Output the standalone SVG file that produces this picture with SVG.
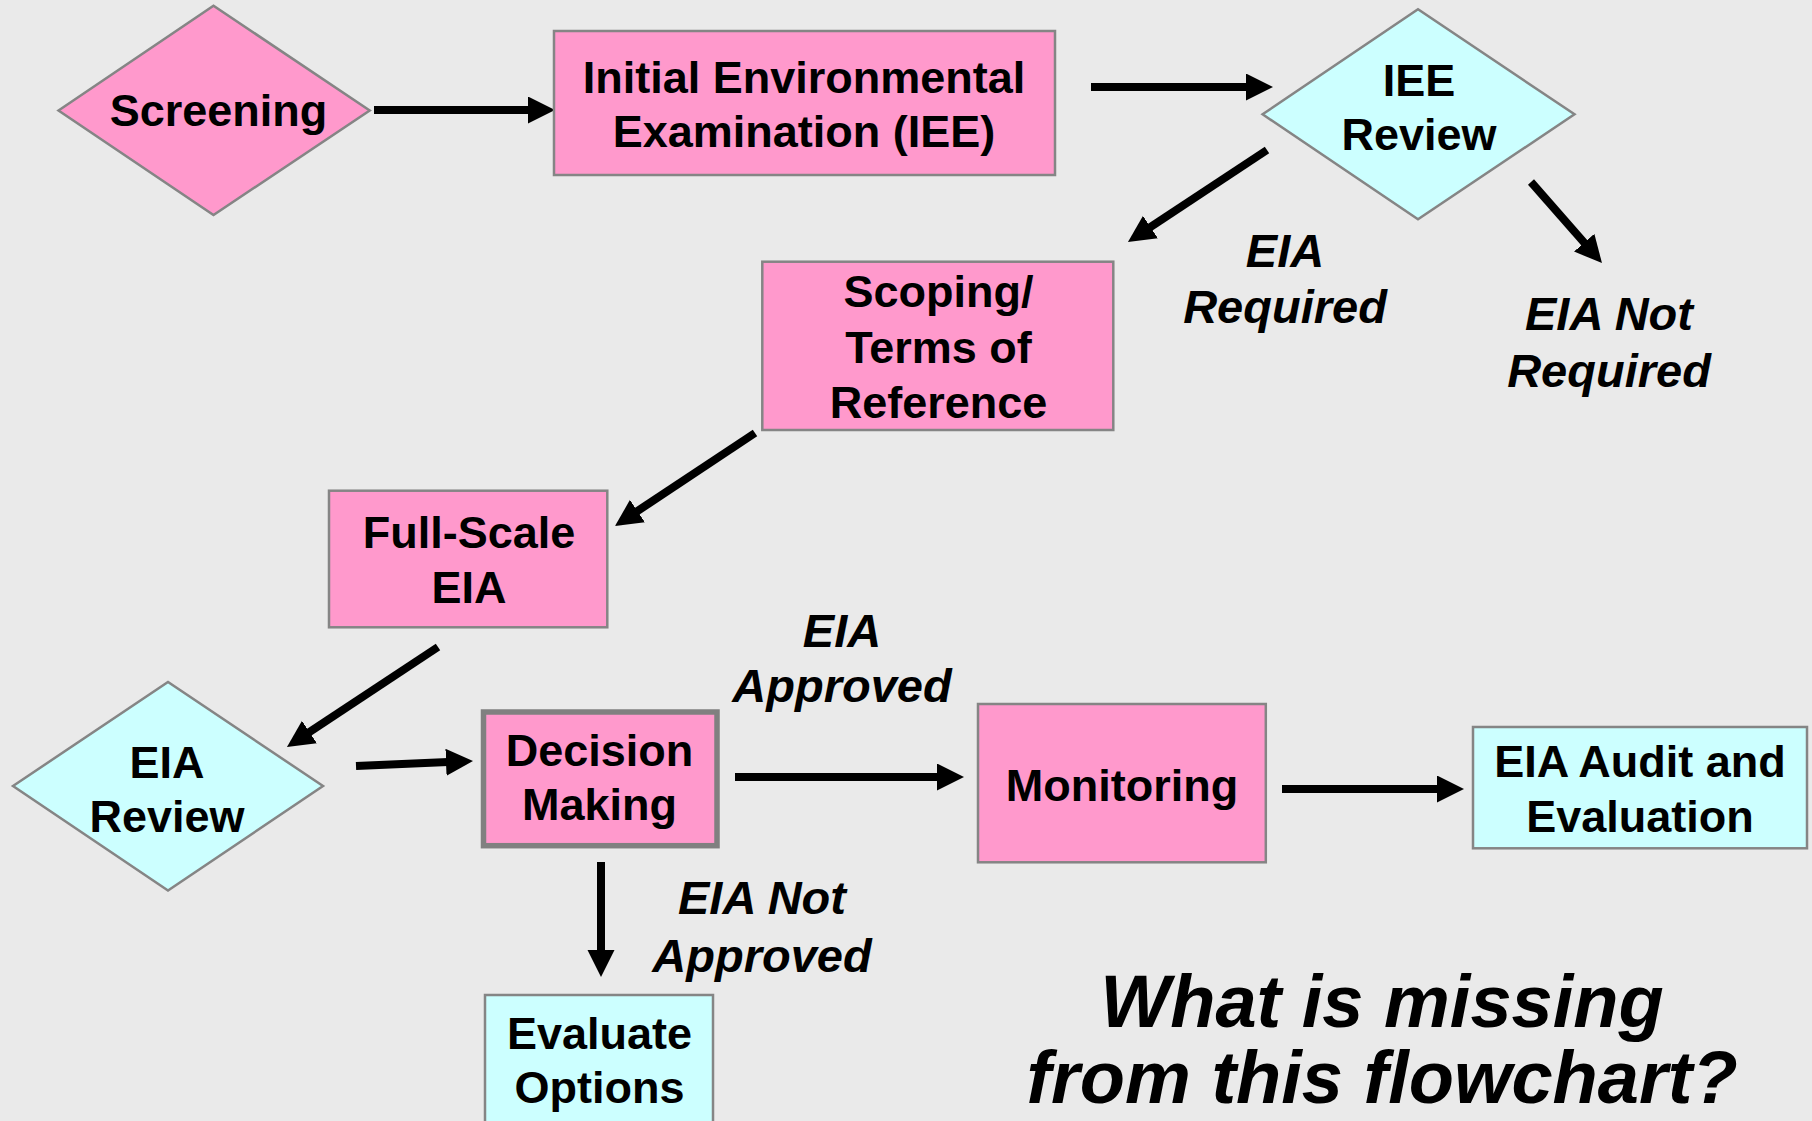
<svg xmlns="http://www.w3.org/2000/svg" width="1812" height="1121" viewBox="0 0 1812 1121">
  <style>
    .pink { fill: #FF99CC; stroke: #858585; stroke-width: 2.5; }
    .cyan { fill: #CCFFFF; stroke: #858585; stroke-width: 2.5; }
    .thick { stroke-width: 5.5; stroke: #808080; }
    .node { font-family: "Liberation Sans", Arial, sans-serif; font-weight: bold; font-size: 45px; fill: #000; text-anchor: middle; }
    .label { font-family: "Liberation Sans", Arial, sans-serif; font-weight: bold; font-style: italic; font-size: 47px; fill: #000; text-anchor: middle; }
    .question { font-family: "Liberation Sans", Arial, sans-serif; font-weight: bold; font-style: italic; font-size: 74px; fill: #000; text-anchor: middle; }
    .conn { stroke: #000; stroke-width: 8; fill: none; marker-end: url(#head); }
  </style>
  <defs>
    <marker id="head" markerUnits="userSpaceOnUse" markerWidth="28" markerHeight="28" viewBox="0 0 28 28" refX="2" refY="13.5" orient="auto">
      <path d="M0,0 L27,13.5 L0,27 Z" fill="#000"/>
    </marker>
  </defs>

  <rect x="0" y="0" width="1812" height="1121" fill="#EAEAEA"/>

  <!-- connectors -->
  <g id="connectors">
    <line class="conn" x1="374" y1="110" x2="530" y2="110"/>
    <line class="conn" x1="1091" y1="87" x2="1248" y2="87"/>
    <line class="conn" x1="1267" y1="150" x2="1148.8" y2="228.2"/>
    <line class="conn" x1="1531" y1="182" x2="1585.5" y2="244.2"/>
    <line class="conn" x1="755" y1="433" x2="635.8" y2="512.2"/>
    <line class="conn" x1="438" y1="647" x2="307.8" y2="733.2"/>
    <line class="conn" x1="356" y1="766" x2="448" y2="762.1"/>
    <line class="conn" x1="735" y1="777" x2="939" y2="777"/>
    <line class="conn" x1="1282" y1="789" x2="1439" y2="789"/>
    <line class="conn" x1="601" y1="862" x2="601" y2="952"/>
  </g>

  <!-- nodes -->
  <g id="screening">
    <polygon class="pink" points="58.5,110.5 213.5,5.7 369.7,110.5 213.5,215"/>
    <text class="node" x="218.5" y="126">Screening</text>
  </g>

  <g id="iee">
    <rect class="pink" x="554" y="31" width="501" height="144"/>
    <text class="node" x="804" y="92.7">Initial Environmental</text>
    <text class="node" x="804" y="146.7">Examination (IEE)</text>
  </g>

  <g id="iee-review">
    <polygon class="cyan" points="1262.6,114.3 1418,9.3 1574.5,114.3 1418,219.3"/>
    <text class="node" x="1419" y="96">IEE</text>
    <text class="node" x="1419" y="150">Review</text>
  </g>

  <g id="scoping">
    <rect class="pink" x="762.3" y="261.7" width="351" height="168.3"/>
    <text class="node" x="938.5" y="307.3">Scoping/</text>
    <text class="node" x="938.5" y="362.7">Terms of</text>
    <text class="node" x="938.5" y="418.3">Reference</text>
  </g>

  <g id="full-scale-eia">
    <rect class="pink" x="329" y="490.7" width="278.3" height="136.6"/>
    <text class="node" x="469" y="548.3">Full-Scale</text>
    <text class="node" x="469" y="603.3">EIA</text>
  </g>

  <g id="eia-review">
    <polygon class="cyan" points="13,786 168,682 323,786 168,890.5"/>
    <text class="node" x="167" y="778.3">EIA</text>
    <text class="node" x="167" y="831.7">Review</text>
  </g>

  <g id="decision-making">
    <rect class="pink thick" x="483.5" y="712" width="233.5" height="133.7"/>
    <text class="node" x="599.5" y="766">Decision</text>
    <text class="node" x="599.5" y="820">Making</text>
  </g>

  <g id="monitoring">
    <rect class="pink" x="978" y="704" width="287.8" height="158.3"/>
    <text class="node" x="1122" y="800.7">Monitoring</text>
  </g>

  <g id="audit">
    <rect class="cyan" x="1473" y="727" width="334" height="121.3"/>
    <text class="node" x="1640" y="776.7">EIA Audit and</text>
    <text class="node" x="1640" y="831.7">Evaluation</text>
  </g>

  <g id="evaluate-options">
    <rect class="cyan" x="485" y="995" width="228" height="140"/>
    <text class="node" x="599.5" y="1049.3">Evaluate</text>
    <text class="node" x="599.5" y="1103.3">Options</text>
  </g>

  <!-- branch labels -->
  <g id="labels">
    <text class="label" x="1285" y="266.7">EIA</text>
    <text class="label" x="1285" y="323.3">Required</text>
    <text class="label" x="1609" y="330">EIA Not</text>
    <text class="label" x="1609" y="386.7">Required</text>
    <text class="label" x="842" y="646.7">EIA</text>
    <text class="label" x="842" y="701.7">Approved</text>
    <text class="label" x="762" y="914">EIA Not</text>
    <text class="label" x="762" y="971.7">Approved</text>
  </g>

  <g id="question">
    <text class="question" x="1382" y="1027.3">What is missing</text>
    <text class="question" x="1382" y="1103.3">from this flowchart?</text>
  </g>
</svg>
